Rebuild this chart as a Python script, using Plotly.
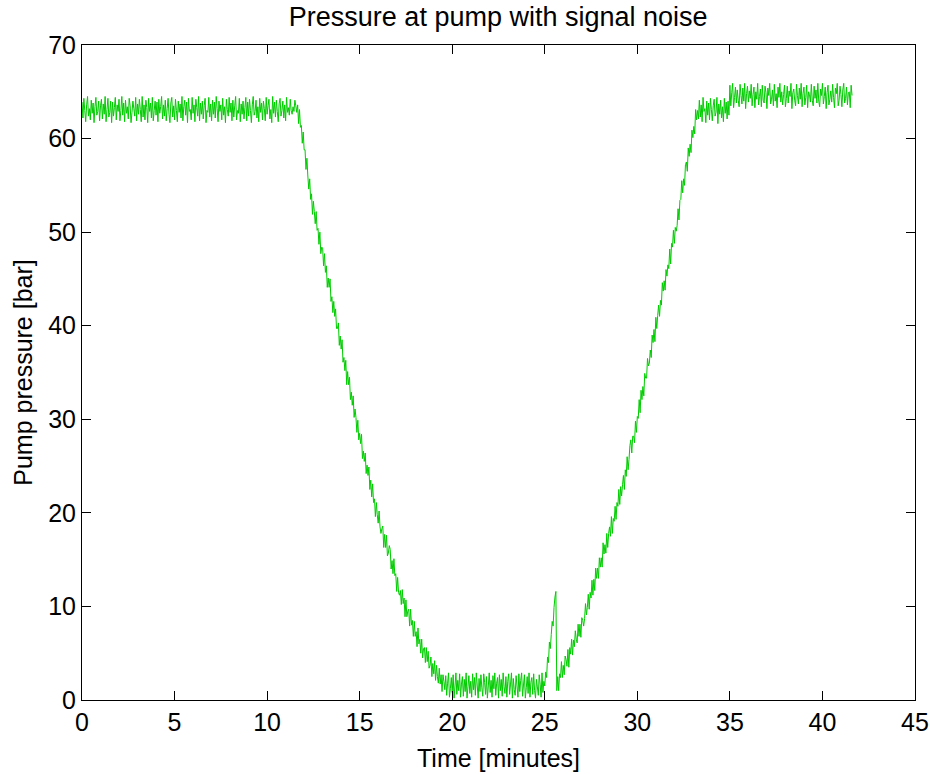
import numpy as np
import plotly.graph_objects as go

# Sampling interval of the recorded signal [minutes]
sample_step_min = 0.05

# Start time [min] of each recorded segment below
segment_start_min = [0.0, 11.65, 19.65, 25.0, 25.65, 33.35, 35.0]

# Pump pressure [bar], one sample every 0.05 min within each segment
pressure_plateau_start = [  # t = 0.00 .. 11.60
    63.9, 62.2, 64.3, 63.0, 61.8, 63.6, 64.5, 62.4, 63.2, 62.0,
    64.1, 62.7, 63.8, 61.7, 63.4, 64.4, 62.5, 62.9, 64.0, 61.9,
    63.5, 64.2, 62.1, 63.7, 62.6, 64.5, 61.8, 63.1, 64.3, 62.3,
    62.8, 64.0, 61.7, 63.9, 62.4, 63.3, 64.4, 62.0, 63.6, 62.9,
    64.2, 61.9, 63.0, 64.5, 62.5, 63.8, 61.8, 64.1, 62.7, 63.4,
    62.1, 64.3, 63.5, 61.7, 62.8, 64.0, 63.2, 62.4, 64.4, 61.9,
    63.7, 62.6, 64.2, 63.1, 61.8, 64.5, 62.3, 63.6, 62.0, 64.1,
    63.3, 61.7, 64.3, 62.9, 63.8, 62.2, 64.4, 61.9, 63.0, 64.0,
    62.5, 63.9, 61.8, 64.2, 62.7, 63.4, 64.5, 62.1, 63.6, 62.4,
    64.1, 61.9, 63.2, 64.3, 62.6, 61.7, 63.8, 64.4, 62.3, 63.5,
    62.0, 64.2, 63.0, 61.8, 64.0, 62.8, 63.7, 62.2, 64.5, 61.9,
    63.4, 64.1, 62.5, 63.9, 61.7, 64.3, 62.9, 63.1, 62.0, 64.4,
    62.7, 63.6, 61.8, 64.2, 63.3, 62.4, 64.5, 61.9, 63.8, 62.6,
    64.0, 62.1, 63.5, 64.3, 61.7, 63.0, 62.8, 64.4, 62.3, 63.7,
    61.9, 64.1, 62.6, 63.9, 62.2, 64.5, 63.2, 61.8, 64.0, 62.9,
    63.6, 62.0, 64.3, 62.5, 63.4, 61.7, 64.2, 63.1, 62.4, 64.4,
    62.8, 63.8, 61.9, 64.1, 62.3, 63.5, 64.5, 62.0, 63.0, 62.7,
    64.3, 61.8, 63.7, 62.6, 64.0, 62.1, 63.3, 64.4, 61.9, 63.9,
    62.4, 64.2, 63.0, 61.7, 63.6, 64.5, 62.5, 62.9, 64.1, 62.2,
    63.4, 61.8, 64.3, 62.8, 63.8, 62.0, 64.0, 63.2, 61.9, 64.4,
    62.6, 63.5, 64.2, 62.1, 63.1, 61.7, 64.5, 62.7, 63.9, 62.3,
    64.1, 62.9, 61.8, 63.7, 64.3, 62.4, 63.0, 64.0, 62.2, 63.6,
    61.9, 64.4, 62.8, 63.3, 62.5, 64.2, 63.0, 62.6, 63.4, 62.9,
    64.1, 63.5, 62.8,
]
pressure_descent = [  # t = 11.65 .. 19.60
    63.6, 61.6, 63.1, 61.2, 61.4, 59.5, 60.7, 58.8, 58.8, 56.7,
    57.9, 56.0, 54.6, 55.7, 53.5, 54.1, 51.9, 53.3, 52.2, 50.9,
    52.2, 50.2, 50.4, 48.7, 50.0, 47.7, 48.4, 48.3, 46.4, 47.7,
    45.7, 46.4, 44.1, 45.1, 44.1, 45.0, 42.6, 43.1, 41.4, 42.6,
    41.0, 41.8, 39.7, 39.7, 40.3, 37.9, 38.9, 37.5, 38.5, 36.1,
    36.6, 35.2, 36.3, 33.7, 35.1, 33.7, 34.5, 32.1, 32.9, 31.5,
    32.5, 30.2, 31.1, 30.2, 28.6, 29.9, 27.8, 28.5, 27.4, 28.4,
    25.8, 26.6, 25.5, 26.4, 24.2, 25.1, 24.0, 24.9, 22.5, 23.5,
    21.7, 23.1, 21.1, 21.5, 19.6, 21.1, 19.8, 18.9, 20.2, 18.5,
    17.8, 18.3, 18.6, 16.3, 17.7, 16.3, 17.6, 15.4, 15.7, 16.5,
    16.1, 14.0, 14.9, 13.5, 15.1, 13.3, 13.5, 11.6, 13.1, 11.5,
    11.2, 11.7, 10.2, 11.8, 10.3, 10.9, 8.9, 10.7, 8.9, 9.5,
    9.7, 7.9, 9.7, 8.0, 8.5, 6.8, 8.4, 6.8, 7.3, 5.7,
    7.7, 6.0, 6.5, 5.0, 6.5, 4.5, 5.5, 5.6, 4.0, 5.6,
    4.1, 5.2, 3.4, 3.7, 4.6, 2.5, 3.9, 2.8, 4.2, 2.1,
    3.7, 2.5, 1.8, 3.4, 1.7, 2.7, 0.9, 2.7, 2.0, 1.1,
]
pressure_bottom = [  # t = 19.65 .. 24.95
    2.6, 0.5, 1.8, 2.9, 0.3, 1.2, 2.4, 0.8, 2.7, 0.2,
    1.5, 2.9, 0.6, 2.1, 1.0, 2.8, 0.3, 1.7, 2.5, 0.4,
    2.2, 0.9, 2.9, 0.2, 1.4, 2.6, 0.7, 2.0, 0.3, 2.8,
    1.1, 2.4, 0.5, 2.9, 1.6, 0.2, 2.3, 0.9, 2.7, 1.3,
    0.4, 2.8, 1.9, 0.6, 2.5, 0.2, 1.5, 2.9, 0.8, 2.1,
    0.3, 2.6, 1.2, 2.9, 0.5, 1.8, 2.4, 0.2, 2.7, 1.0,
    2.2, 0.4, 2.9, 1.4, 0.7, 2.5, 0.3, 2.0, 2.8, 0.6,
    1.7, 2.9, 0.2, 2.3, 1.1, 0.5, 2.6, 1.5, 0.3, 2.8,
    0.9, 2.1, 2.9, 0.4, 1.6, 2.7, 0.2, 1.3, 2.5, 0.7,
    2.9, 0.3, 1.9, 2.4, 0.6, 2.8, 1.0, 0.2, 2.2, 1.4,
    0.5, 2.7, 1.7, 0.3, 2.9, 0.8, 2.0,
]
pressure_spike = [  # t = 25.00 .. 25.60
    1.5, 3.0, 2.4, 4.6, 4.0, 6.2, 5.5, 7.0, 8.4, 7.9, 9.9, 11.0, 11.6,
]
pressure_rise = [  # t = 25.65 .. 33.30
    1.0, 2.5, 1.0, 2.8, 2.4, 4.1, 2.4, 3.7, 2.7, 4.7,
    4.3, 3.6, 5.4, 3.5, 5.6, 4.9, 6.5, 4.8, 6.4, 5.7,
    7.4, 6.5, 6.1, 8.1, 6.8, 8.1, 6.7, 8.8, 8.5, 7.9,
    8.7, 10.3, 9.1, 9.9, 11.3, 9.7, 11.5, 10.9, 12.8, 11.2,
    12.9, 11.7, 14.1, 13.0, 14.1, 13.0, 15.2, 14.2, 15.2, 14.2,
    16.8, 15.6, 16.6, 15.7, 17.8, 16.3, 17.8, 18.5, 17.5, 19.6,
    17.8, 19.4, 19.1, 20.7, 19.3, 21.1, 20.7, 22.5, 20.9, 22.8,
    21.8, 23.0, 24.0, 22.5, 24.6, 23.9, 26.0, 24.6, 25.7, 27.2,
    27.8, 26.4, 28.2, 28.2, 27.5, 29.8, 28.6, 30.3, 30.1, 32.1,
    30.7, 33.1, 32.1, 33.5, 32.5, 34.9, 34.4, 34.4, 36.5, 35.7,
    36.0, 37.4, 36.6, 39.0, 38.2, 39.6, 38.3, 40.9, 39.7, 41.1,
    42.2, 41.0, 42.7, 42.2, 44.6, 43.7, 44.8, 43.8, 46.0, 45.3,
    46.5, 46.1, 48.2, 46.6, 48.8, 48.4, 50.2, 48.8, 50.5, 50.1,
    50.7, 52.5, 51.3, 53.4, 53.5, 55.5, 54.2, 55.7, 55.0, 57.2,
    57.5, 56.5, 59.0, 58.1, 59.4, 58.5, 60.9, 60.1, 61.3, 60.5,
    63.1, 62.0, 63.0, 62.1,
]
pressure_plateau_mid = [  # t = 33.35 .. 34.95
    64.1, 62.3, 63.6, 61.8, 64.4, 62.9, 63.2, 61.7, 64.0, 62.5,
    63.8, 62.0, 64.3, 63.1, 61.9, 63.5, 64.2, 62.4, 62.8, 64.4,
    61.6, 63.7, 62.6, 64.1, 62.2, 63.4, 61.8, 64.3, 62.7, 63.9,
    62.1, 64.0, 62.5,
]
pressure_plateau_end = [  # t = 35.00 .. 41.60
    65.7, 63.5, 64.9, 65.9, 63.3, 64.4, 65.5, 63.8, 65.2, 64.1,
    63.4, 65.8, 64.6, 63.7, 65.4, 64.0, 65.9, 63.2, 64.8, 65.6,
    63.9, 65.1, 64.3, 65.8, 63.5, 64.7, 65.5, 63.3, 65.0, 64.2,
    65.9, 63.6, 64.5, 65.3, 63.4, 65.7, 64.1, 63.8, 65.6, 64.9,
    63.2, 65.4, 64.6, 65.9, 63.7, 64.2, 65.2, 63.5, 65.8, 64.0,
    64.8, 63.3, 65.5, 64.4, 65.9, 63.9, 65.0, 63.6, 64.7, 65.7,
    63.4, 64.3, 65.6, 63.8, 65.1, 64.5, 65.9, 63.2, 64.9, 65.3,
    64.1, 63.5, 65.8, 64.6, 63.7, 65.4, 64.2, 65.9, 63.4, 64.8,
    65.5, 63.6, 64.4, 65.7, 63.3, 65.0, 64.7, 63.9, 65.8, 64.1,
    63.5, 65.6, 64.3, 65.2, 63.8, 65.9, 64.0, 63.4, 65.3, 64.6,
    65.9, 63.7, 64.5, 65.5, 63.2, 64.9, 65.7, 63.6, 64.2, 65.1,
    63.9, 65.8, 64.4, 63.3, 65.4, 64.8, 65.9, 63.5, 64.1, 65.6,
    64.7, 63.4, 65.2, 65.9, 63.8, 64.3, 65.5, 63.6, 64.9, 65.0,
    63.3, 65.7, 64.6,
]

x_ticks = [0, 5, 10, 15, 20, 25, 30, 35, 40, 45]
y_ticks = [0, 10, 20, 30, 40, 50, 60, 70]

segments = [pressure_plateau_start, pressure_descent, pressure_bottom,
            pressure_spike, pressure_rise, pressure_plateau_mid,
            pressure_plateau_end]
time_min = np.concatenate([
    t0 + sample_step_min * np.arange(len(seg))
    for t0, seg in zip(segment_start_min, segments)
])
pressure = np.concatenate([np.asarray(seg, dtype=float) for seg in segments])

FONT = "Liberation Sans, Arial, sans-serif"

fig = go.Figure()
fig.add_trace(go.Scatter(
    x=time_min, y=pressure, mode="lines",
    line=dict(color="#00cc00", width=1, simplify=False),
    showlegend=False, hoverinfo="x+y",
))

axis_common = dict(
    showline=True, linecolor="black", linewidth=1, mirror="ticks",
    ticks="inside", ticklen=9, tickcolor="black", tickwidth=1,
    showgrid=False, zeroline=False, automargin=False,
    tickfont=dict(family=FONT, size=25, color="black"),
)

fig.update_layout(
    width=930, height=774,
    paper_bgcolor="white", plot_bgcolor="white",
    margin=dict(l=82, r=15, t=45, b=74),
    font=dict(family=FONT, size=25, color="black"),
    title=dict(text="Pressure at pump with signal noise",
               x=0.5357, xanchor="center", y=1 - 17 / 774, yanchor="middle",
               yref="container",
               font=dict(family=FONT, size=27, color="black")),
    xaxis=dict(range=[0, 45], tickvals=x_ticks,
               title=dict(text="Time [minutes]", standoff=14,
                          font=dict(family=FONT, size=25, color="black")),
               **axis_common),
    yaxis=dict(range=[0, 70], tickvals=y_ticks,
               title=dict(text="Pump pressure [bar]", standoff=8,
                          font=dict(family=FONT, size=25, color="black")),
               **axis_common),
)

fig.write_html("out.html")
